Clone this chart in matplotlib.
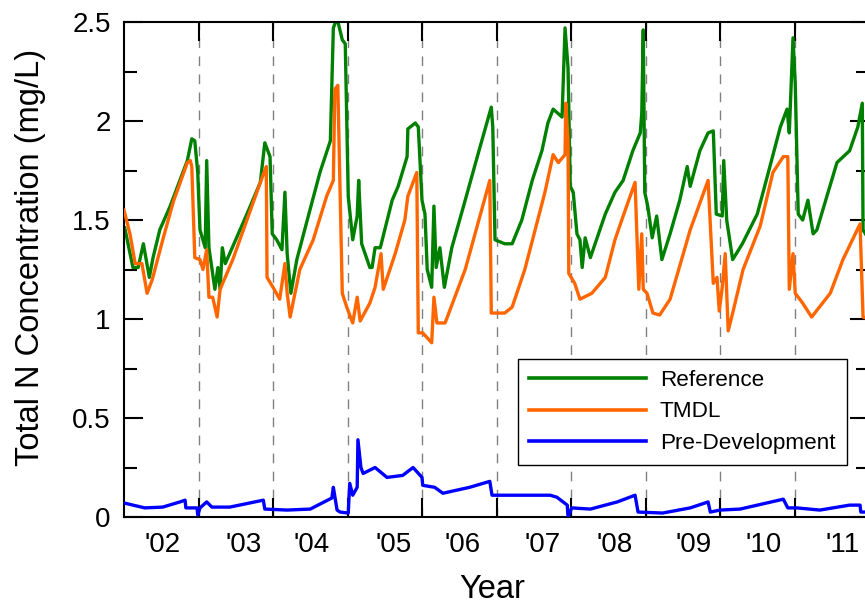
import matplotlib
matplotlib.use('Agg')
import matplotlib.pyplot as plt
from matplotlib.ticker import FixedLocator, FixedFormatter, NullFormatter, FuncFormatter

plt.rcParams['font.family'] = ['Liberation Sans', 'DejaVu Sans']

# ---------------- data ----------------
year_bounds = [2003, 2004, 2005, 2006, 2007, 2008, 2009, 2010, 2011]
year_labels = ["'02", "'03", "'04", "'05", "'06", "'07", "'08", "'09", "'10", "'11"]
year_label_pos = [2002.52, 2003.61, 2004.52, 2005.62, 2006.54, 2007.62,
                  2008.58, 2009.64, 2010.58, 2011.64]

ref_t = [2002.01, 2002.12, 2002.19, 2002.26, 2002.34, 2002.39, 2002.48, 2002.62, 2002.85, 2002.91,
         2002.95, 2002.99, 2003.02, 2003.09, 2003.11, 2003.14, 2003.22, 2003.26, 2003.29, 2003.32,
         2003.36, 2003.65, 2003.83, 2003.89, 2003.96, 2003.99, 2004.05, 2004.12, 2004.16, 2004.19,
         2004.24, 2004.32, 2004.46, 2004.63, 2004.77, 2004.81, 2004.86, 2004.93, 2004.97, 2005.01,
         2005.07, 2005.13, 2005.15, 2005.19, 2005.30, 2005.33, 2005.37, 2005.44, 2005.60, 2005.68,
         2005.80, 2005.81, 2005.91, 2005.95, 2006.00, 2006.04, 2006.07, 2006.13, 2006.16, 2006.19,
         2006.24, 2006.30, 2006.40, 2006.58, 2006.75, 2006.93, 2006.95, 2006.98, 2007.11, 2007.21,
         2007.34, 2007.48, 2007.61, 2007.69, 2007.76, 2007.88, 2007.92, 2007.96, 2007.99, 2008.03,
         2008.08, 2008.12, 2008.15, 2008.19, 2008.26, 2008.46, 2008.59, 2008.70, 2008.83, 2008.93,
         2008.95, 2008.97, 2008.99, 2009.03, 2009.09, 2009.15, 2009.22, 2009.33, 2009.46, 2009.56,
         2009.60, 2009.73, 2009.84, 2009.91, 2009.95, 2010.03, 2010.05, 2010.09, 2010.17, 2010.30,
         2010.50, 2010.67, 2010.81, 2010.90, 2010.93, 2010.98, 2011.01, 2011.05, 2011.11, 2011.18,
         2011.25, 2011.30, 2011.57, 2011.74, 2011.85, 2011.91, 2011.92, 2012.00]
ref_v = [1.46, 1.26, 1.26, 1.38, 1.21, 1.31, 1.45, 1.57, 1.80, 1.91,
         1.90, 1.74, 1.45, 1.36, 1.80, 1.36, 1.15, 1.26, 1.15, 1.36,
         1.28, 1.53, 1.69, 1.89, 1.82, 1.43, 1.40, 1.35, 1.64, 1.33,
         1.13, 1.30, 1.50, 1.74, 1.90, 2.47, 2.52, 2.41, 2.39, 1.62,
         1.40, 1.52, 1.70, 1.38, 1.26, 1.26, 1.36, 1.36, 1.60, 1.67,
         1.82, 1.96, 1.99, 1.97, 1.60, 1.53, 1.25, 1.16, 1.57, 1.26,
         1.36, 1.16, 1.36, 1.60, 1.83, 2.07, 1.97, 1.40, 1.38, 1.38,
         1.50, 1.70, 1.85, 1.99, 2.06, 2.02, 2.47, 2.27, 1.67, 1.64,
         1.43, 1.40, 1.26, 1.41, 1.31, 1.53, 1.64, 1.70, 1.85, 1.94,
         2.04, 2.46, 1.64, 1.57, 1.41, 1.52, 1.30, 1.43, 1.60, 1.77,
         1.67, 1.85, 1.94, 1.95, 1.53, 1.52, 1.80, 1.50, 1.30, 1.38,
         1.53, 1.77, 1.97, 2.06, 1.94, 2.42, 2.19, 1.53, 1.50, 1.60,
         1.43, 1.45, 1.79, 1.85, 1.97, 2.09, 1.45, 1.40]

tmdl_t = [2002.00, 2002.08, 2002.15, 2002.24, 2002.31, 2002.38, 2002.52, 2002.66, 2002.85, 2002.89,
          2002.91, 2002.95, 2003.02, 2003.06, 2003.11, 2003.14, 2003.19, 2003.25, 2003.29, 2003.46,
          2003.65, 2003.83, 2003.91, 2003.92, 2004.00, 2004.09, 2004.16, 2004.19, 2004.23, 2004.36,
          2004.54, 2004.72, 2004.81, 2004.83, 2004.87, 2004.93, 2004.99, 2005.07, 2005.13, 2005.17,
          2005.30, 2005.37, 2005.45, 2005.48, 2005.64, 2005.77, 2005.81, 2005.93, 2005.95, 2006.01,
          2006.13, 2006.16, 2006.20, 2006.31, 2006.58, 2006.91, 2006.93, 2007.11, 2007.21, 2007.38,
          2007.65, 2007.76, 2007.83, 2007.92, 2007.93, 2007.96, 2007.97, 2008.05, 2008.12, 2008.28,
          2008.46, 2008.59, 2008.70, 2008.86, 2008.91, 2008.95, 2008.97, 2009.02, 2009.10, 2009.19,
          2009.33, 2009.60, 2009.84, 2009.91, 2009.96, 2009.99, 2010.03, 2010.07, 2010.11, 2010.17,
          2010.31, 2010.54, 2010.71, 2010.85, 2010.91, 2010.93, 2010.98, 2011.01, 2011.11, 2011.23,
          2011.48, 2011.65, 2011.88, 2011.92, 2012.00]
tmdl_v = [1.55, 1.43, 1.28, 1.28, 1.13, 1.20, 1.40, 1.59, 1.79, 1.80,
          1.77, 1.31, 1.30, 1.25, 1.35, 1.11, 1.11, 1.01, 1.15, 1.30,
          1.50, 1.69, 1.77, 1.21, 1.16, 1.10, 1.28, 1.13, 1.01, 1.25,
          1.40, 1.62, 1.70, 2.16, 2.18, 1.13, 1.06, 0.98, 1.11, 0.99,
          1.08, 1.16, 1.33, 1.15, 1.33, 1.50, 1.62, 1.74, 0.93, 0.93,
          0.88, 1.11, 0.98, 0.98, 1.25, 1.70, 1.03, 1.03, 1.06, 1.25,
          1.64, 1.83, 1.79, 1.83, 2.09, 1.90, 1.23, 1.18, 1.10, 1.13,
          1.21, 1.40, 1.52, 1.69, 1.15, 1.43, 1.15, 1.13, 1.03, 1.02,
          1.10, 1.45, 1.70, 1.18, 1.21, 1.04, 1.16, 1.33, 0.94, 1.03,
          1.25, 1.47, 1.74, 1.82, 1.82, 1.15, 1.33, 1.13, 1.08, 1.01,
          1.13, 1.30, 1.48, 1.01, 1.00]

pre_t = [2002.01, 2002.12, 2002.28, 2002.52, 2002.75, 2002.82, 2002.83, 2002.98, 2002.99, 2003.02,
         2003.11, 2003.18, 2003.42, 2003.87, 2003.89, 2004.19, 2004.50, 2004.79, 2004.81, 2004.86,
         2004.90, 2005.01, 2005.03, 2005.07, 2005.13, 2005.14, 2005.18, 2005.21, 2005.37, 2005.53,
         2005.74, 2005.88, 2006.00, 2006.01, 2006.17, 2006.28, 2006.64, 2006.91, 2006.94, 2007.05,
         2007.72, 2007.81, 2007.95, 2007.96, 2008.01, 2008.26, 2008.62, 2008.86, 2008.90, 2009.23,
         2009.60, 2009.84, 2009.87, 2010.00, 2010.27, 2010.85, 2010.91, 2011.03, 2011.34, 2011.74,
         2011.88, 2011.89, 2012.00]
pre_v = [0.070, 0.060, 0.046, 0.050, 0.076, 0.085, 0.046, 0.046, 0.010, 0.046,
         0.076, 0.050, 0.050, 0.085, 0.040, 0.035, 0.040, 0.096, 0.150, 0.035,
         0.025, 0.020, 0.170, 0.110, 0.150, 0.390, 0.250, 0.220, 0.250, 0.200,
         0.210, 0.250, 0.200, 0.160, 0.150, 0.120, 0.150, 0.180, 0.110, 0.110,
         0.110, 0.100, 0.060, 0.000, 0.046, 0.040, 0.076, 0.110, 0.025, 0.020,
         0.046, 0.076, 0.025, 0.035, 0.040, 0.090, 0.046, 0.046, 0.035, 0.060,
         0.060, 0.025, 0.025]

# ---------------- figure ----------------
fig = plt.figure(figsize=(8.65, 6.0), dpi=100)
ax = fig.add_axes([124 / 865, 83 / 600, 745 / 865, 495 / 600])

for b in year_bounds:
    ax.axvline(b, color='#808080', lw=1.0, ls=(0, (7, 6)), zorder=0)

ax.plot(ref_t, ref_v, color='#008000', lw=2.4, label='Reference', zorder=2)
ax.plot(tmdl_t, tmdl_v, color='#FF6600', lw=2.4, label='TMDL', zorder=3)
ax.plot(pre_t, pre_v, color='#0000FF', lw=2.4, label='Pre-Development', zorder=4)

ax.set_xlim(2002, 2012)
ax.set_ylim(0, 2.5)

for s in ax.spines.values():
    s.set_linewidth(1.5)

# x ticks: marks at year boundaries, labels centred in the years
ax.xaxis.set_major_locator(FixedLocator(year_bounds))
ax.xaxis.set_major_formatter(NullFormatter())
ax.xaxis.set_minor_locator(FixedLocator(year_label_pos))
ax.xaxis.set_minor_formatter(FixedFormatter(year_labels))
ax.tick_params(axis='x', which='major', direction='in', top=True, bottom=True,
               length=13.4, width=1.5)
ax.tick_params(axis='x', which='minor', length=0, labelsize=20, pad=10.5)

# y ticks
ax.yaxis.set_major_locator(FixedLocator([0, 0.5, 1.0, 1.5, 2.0, 2.5]))
ax.yaxis.set_major_formatter(FuncFormatter(lambda v, p: f'{v:g}'))
ax.yaxis.set_minor_locator(FixedLocator([0.25, 0.75, 1.25, 1.75, 2.25]))
ax.tick_params(axis='y', which='major', direction='in', left=True, right=True,
               length=13.4, width=1.5, labelsize=20, pad=9.5)
ax.tick_params(axis='y', which='minor', direction='in', left=True, right=True,
               length=9.4, width=1.5)

ax.set_ylabel('Total N Concentration (mg/L)', fontsize=23.5)
ax.yaxis.set_label_coords(-0.1047, 0.525)
ax.set_xlabel('Year', fontsize=23.5, va='baseline')
ax.xaxis.set_label_coords(0.4946, -0.1636)

leg = ax.legend(loc='upper left', bbox_to_anchor=(0.529, 0.319), borderaxespad=0,
                fontsize=16.2, handlelength=5.2, handletextpad=0.6, labelspacing=0.45,
                borderpad=0.5, frameon=True, fancybox=False, edgecolor='black',
                framealpha=1)
leg.get_frame().set_linewidth(1.0)
for ln in leg.get_lines():
    ln.set_linewidth(2.6)

fig.savefig('out.png', dpi=100)
